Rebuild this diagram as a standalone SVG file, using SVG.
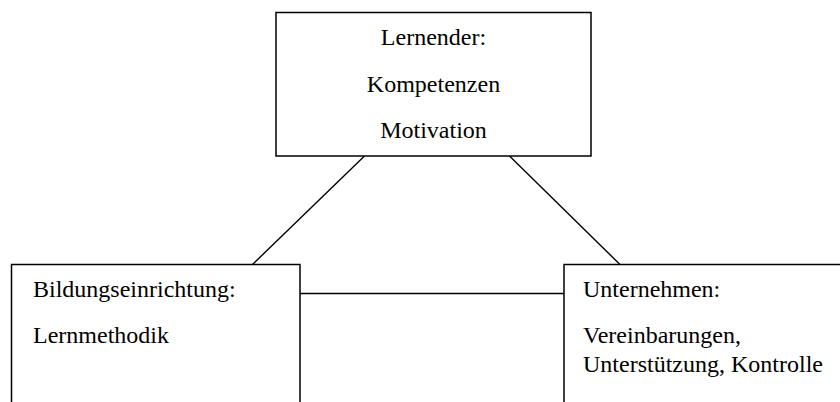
<svg xmlns="http://www.w3.org/2000/svg" width="840" height="402" viewBox="0 0 840 402">
<style>
.box{fill:#fff;stroke:#000;stroke-width:1.5}
.ln{stroke:#000;stroke-width:1.4;fill:none}
text{font-family:"Liberation Serif","Times New Roman",serif;font-size:24px;fill:#000}
</style>
<rect width="840" height="402" fill="#fff"/>
<g id="connectors">
<line class="ln" x1="364.5" y1="156" x2="252.5" y2="264.5"/>
<line class="ln" x1="509.5" y1="156" x2="620" y2="264.5"/>
<line class="ln" x1="300" y1="293.5" x2="564" y2="293.5"/>
</g>
<g id="lernender">
<rect class="box" x="276" y="12.5" width="315" height="143.5"/>
<text x="433.5" y="45" text-anchor="middle">Lernender:</text>
<text x="433.5" y="92" text-anchor="middle">Kompetenzen</text>
<text x="433.5" y="138" text-anchor="middle">Motivation</text>
</g>
<g id="bildungseinrichtung">
<rect class="box" x="11.5" y="264.5" width="288.5" height="150"/>
<text x="33" y="297">Bildungseinrichtung:</text>
<text x="33" y="343">Lernmethodik</text>
</g>
<g id="unternehmen">
<rect class="box" x="564" y="264.5" width="290" height="150"/>
<text x="583" y="297">Unternehmen:</text>
<text x="583" y="343">Vereinbarungen,</text>
<text x="583" y="372">Unterstützung, Kontrolle</text>
</g>
</svg>
